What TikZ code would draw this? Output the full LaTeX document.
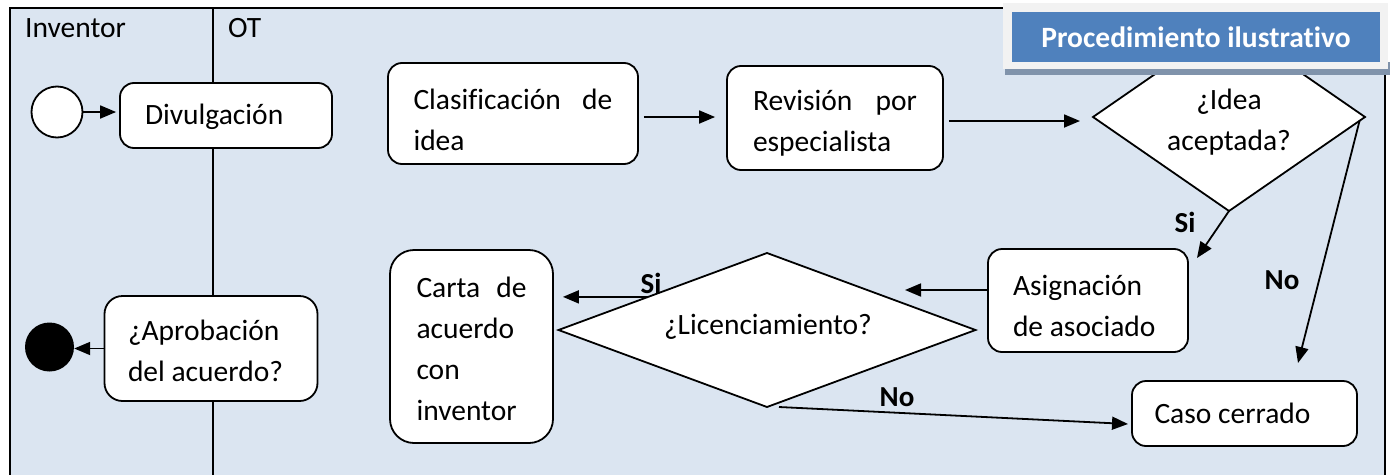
\documentclass[tikz,border=0pt]{standalone}
\usepackage{fontspec}
\setmainfont{Carlito}[Ligatures=NoCommon]
\usetikzlibrary{arrows.meta,shapes.geometric,calc}
\definecolor{lanebg}{HTML}{DBE5F1}
\definecolor{titleblue}{HTML}{4F81BD}
\definecolor{shadowc}{HTML}{8093AB}
\definecolor{titleframe}{HTML}{F2F2F2}
\newcommand\tstrut[1]{\rule{0pt}{#1}}
\begin{document}
\begin{tikzpicture}[x=1pt,y=-1pt,
  every node/.style={font=\fontsize{29.5}{41}\selectfont},
  proc/.style={draw,line width=1.8pt,fill=white,rounded corners=14pt,align=flush left,inner sep=0pt},
  dec/.style={draw,line width=1.8pt,fill=white,diamond,inner sep=0pt,outer sep=0pt},
  arr/.style={line width=1.8pt,-{Triangle[length=16pt,width=13pt]}},
  lbl/.style={font=\fontsize{29}{41}\selectfont\bfseries,inner sep=0pt},
  txt/.style={align=center,inner sep=0pt}]
\useasboundingbox (0,0) rectangle (1392,474);
% swimlanes
\fill[lanebg] (10,8) rectangle (1385,490);
\draw[line width=1.8pt] (10,490) -- (10,8) -- (1385,8) -- (1385,490);
\draw[line width=1.8pt] (213,8) -- (213,490);
\node[anchor=base west,inner sep=0pt] (lane1) at (25,37) {Inventor};
\node[anchor=base west,inner sep=0pt] (lane2) at (228,37) {OT};
% nodes
\node[circle,draw,line width=1.8pt,fill=white,minimum size=51pt,inner sep=0pt] (start) at (57,112) {};
\node[proc,minimum width=212pt,minimum height=65pt,text width=162pt] (divul) at (226,115.5) {\tstrut{23pt}Divulgación};
\node[proc,minimum width=250pt,minimum height=101pt,text width=199pt] (clasif) at (513,113.5) {\tstrut{34pt}Clasificación\hfill de\\idea};
\node[proc,minimum width=216pt,minimum height=104pt,text width=164pt] (rev) at (835,118) {\tstrut{30pt}Revisión\hfill por\\especialista};
\node[dec,minimum width=272pt,minimum height=188pt] (idea) at (1229,117) {};
\node[txt] (ideat) at (1229,122) {¿Idea\\aceptada?};
\node[proc,minimum width=200pt,minimum height=103pt,text width=150pt] (asig) at (1088,300.5) {\tstrut{31pt}Asignación\\de asociado};
\node[proc,minimum width=225pt,minimum height=65pt,text width=180pt] (caso) at (1244.5,413.5) {\tstrut{21pt}Caso cerrado};
\node[dec,minimum width=417pt,minimum height=154pt] (lic) at (767,330) {};
\node[txt] (lict) at (768,327) {¿Licenciamiento?};
\node[proc,rounded corners=24pt,minimum width=163pt,minimum height=193pt,text width=110pt] (carta) at (471.5,346.5) {\tstrut{26pt}Carta\hfill de\\acuerdo\\con\\inventor};
\node[proc,rounded corners=18pt,minimum width=213pt,minimum height=105pt,text width=166pt] (aprob) at (211,348.5) {\tstrut{26pt}¿Aprobación\\del acuerdo?};
\node[circle,fill=black,minimum size=49pt,inner sep=0pt] (end) at (49.5,347) {};
% helper coordinates
\coordinate (c1) at (643,117);
\coordinate (c3) at (1080,121);
\coordinate (c4) at (1197,258);
\coordinate (c5) at (1298,363);
\coordinate (c6) at (905,290);
\coordinate (c7) at ($(lic.west)!0.43!(lic.north)$);
\coordinate (c8) at (1128,424);
% connectors
\draw[arr,shorten >=3pt] (start.east) -- (start.east -| divul.west);
\draw[arr,shorten <=5pt,shorten >=11pt] (clasif.east |- c1) -- (rev.west |- c1);
\draw[arr,shorten <=5pt] (rev.east |- c3) -- (c3);
\draw[arr] (idea.south) -- (c4);
\draw[arr] ($(idea.east)!0.04!(idea.south)$) -- (c5);
\draw[arr] (asig.west |- c6) -- (c6);
\draw[arr,shorten >=9pt] (c7) -- (carta.east |- c7);
\draw[arr] ($(lic.south)+(12,0)$) -- (c8);
\draw[arr] (aprob.west) -- (aprob.west -| end.east);
% labels
\node[lbl] (si1) at (1185,222) {Si};
\node[lbl] (no1) at (1282,280) {No};
\node[lbl] (si2) at (651,283) {Si};
\node[lbl] (no2) at (897,397) {No};
% title
\fill[shadowc] (1005,62) rectangle (1390,75);
\fill[titleframe] (1003,3) rectangle (1388,69);
\node[fill=titleblue,minimum width=368pt,minimum height=50pt,inner sep=0pt,text=white,font=\fontsize{29.5}{34}\selectfont\bfseries] (title) at (1196,37) {Procedimiento ilustrativo};
\end{tikzpicture}
\end{document}
